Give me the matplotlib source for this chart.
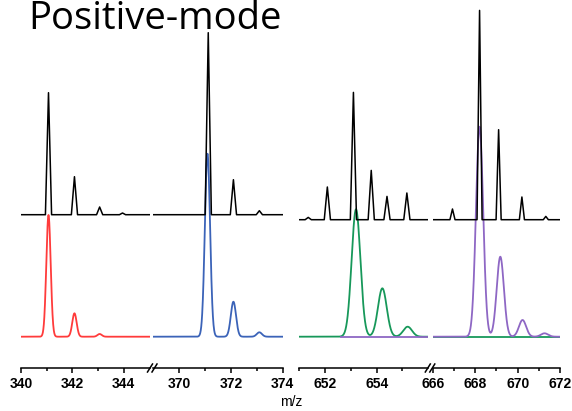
import numpy as np
import matplotlib.pyplot as plt
from matplotlib.lines import Line2D

OUT_PATH = "out.png"

W, H = 572, 411

# x ranges of the four broken-axis segments
SEG_LIMITS = [(340, 345), (369, 374), (651, 656), (666, 672)]
SEG_PIX = [(21, 149.5), (153, 282.7), (299.2, 428.3), (433, 560)]
MAJOR_TICKS = [[340, 342, 344], [370, 372, 374], [652, 654], [666, 668, 670, 672]]
MINOR_TICKS = [[341, 343], [371, 373], [651, 653, 655], [667, 669, 671]]

# black stick spectra (theoretical), offset above the measured profiles
black_offsets = [122, 122, 117, 117]
black_mz = [
    [341.07, 342.08, 343.06, 343.95],
    [371.13, 372.10, 373.10],
    [651.35, 652.09, 653.10, 653.79, 654.40, 655.17],
    [666.92, 668.20, 669.10, 670.20, 671.33],
]
black_int = [
    [122, 38, 7.7, 1.7],
    [182, 35, 4],
    [2.3, 32.7, 127.3, 49.3, 23.3, 26.7],
    [10.7, 209.3, 90, 22.7, 3.3],
]

# coloured profile spectra
red_mz = [341.07, 342.08, 343.06]
red_int = [121.7, 23.4, 2.7]
blue_mz = [371.10, 372.10, 373.10]
blue_int = [183, 35, 4.4]
green_mz = [653.20, 654.22, 655.20]
green_int = [127.4, 48.4, 10]
purple_mz = [668.20, 669.18, 670.23, 671.27]
purple_int = [210, 80, 16.7, 3.4]


def profile(x, centers, heights, sigma):
    y = np.zeros_like(x)
    for c, h in zip(centers, heights):
        y += h * np.exp(-0.5 * ((x - c) / sigma) ** 2)
    return y


def sticks(lo, hi, centers, heights, offset, half=0.12):
    xs, ys = [lo], [offset]
    for c, h in zip(centers, heights):
        xs += [c - half, c, c + half]
        ys += [offset, offset + h, offset]
    xs.append(hi)
    ys.append(offset)
    return xs, ys


if __name__ == "__main__":
    fig = plt.figure(figsize=(W / 100, H / 100), dpi=100)
    plt.rcParams["font.family"] = ["Liberation Sans", "DejaVu Sans"]

    axis_y = 368
    bottom = (H - axis_y) / H
    height = axis_y / H

    curves = [
        (np.linspace(340, 345, 800), red_mz, red_int, 0.085, "#ff3b3b"),
        (np.linspace(369, 374, 800), blue_mz, blue_int, 0.10, "#3b63b8"),
        (np.linspace(651, 672, 3000), green_mz, green_int, 0.17, "#17985a"),
        (np.linspace(652.6, 672, 3000), purple_mz, purple_int, 0.17, "#8e67c4"),
    ]

    for i, ((lo, hi), (p0, p1)) in enumerate(zip(SEG_LIMITS, SEG_PIX)):
        ax = fig.add_axes([p0 / W, bottom, (p1 - p0) / W, height])
        ax.set_xlim(lo, hi)
        ax.set_ylim(-31.3, 336.7)
        ax.patch.set_alpha(0)

        for x, mz, inten, sig, col in curves:
            ax.plot(x, profile(x, mz, inten, sig), color=col, lw=1.3)

        xs, ys = sticks(lo, hi, black_mz[i], black_int[i], black_offsets[i])
        ax.plot(xs, ys, color="black", lw=1.1)

        for side in ["top", "left", "right"]:
            ax.spines[side].set_visible(False)
        ax.spines["bottom"].set_linewidth(1.1)
        ax.set_yticks([])
        ax.set_xticks(MAJOR_TICKS[i])
        ax.set_xticks(MINOR_TICKS[i], minor=True)
        ax.tick_params(axis="x", which="major", length=3.8, width=1.1, pad=2.5,
                       labelsize=10)
        ax.tick_params(axis="x", which="minor", length=1.8, width=1.1)
        for lab in ax.get_xticklabels():
            lab.set_fontweight("bold")

    # break marks on the x axis
    for cx in [150.0, 154.5, 427.8, 432.3]:
        fig.add_artist(Line2D([(cx - 2.5) / W, (cx + 2.5) / W],
                              [(H - axis_y - 4) / H, (H - axis_y + 4) / H],
                              color="black", lw=1.1))

    fig.text(291 / W, 1 - 402 / H, "m/z", ha="center", va="center", fontsize=10)
    fig.text(28 / W, 1 - 29 / H, "Positive-mode", ha="left", va="baseline",
             fontsize=27.5, family=["Open Sans", "DejaVu Sans"])

    plt.savefig(OUT_PATH, dpi=100)
    plt.close()
